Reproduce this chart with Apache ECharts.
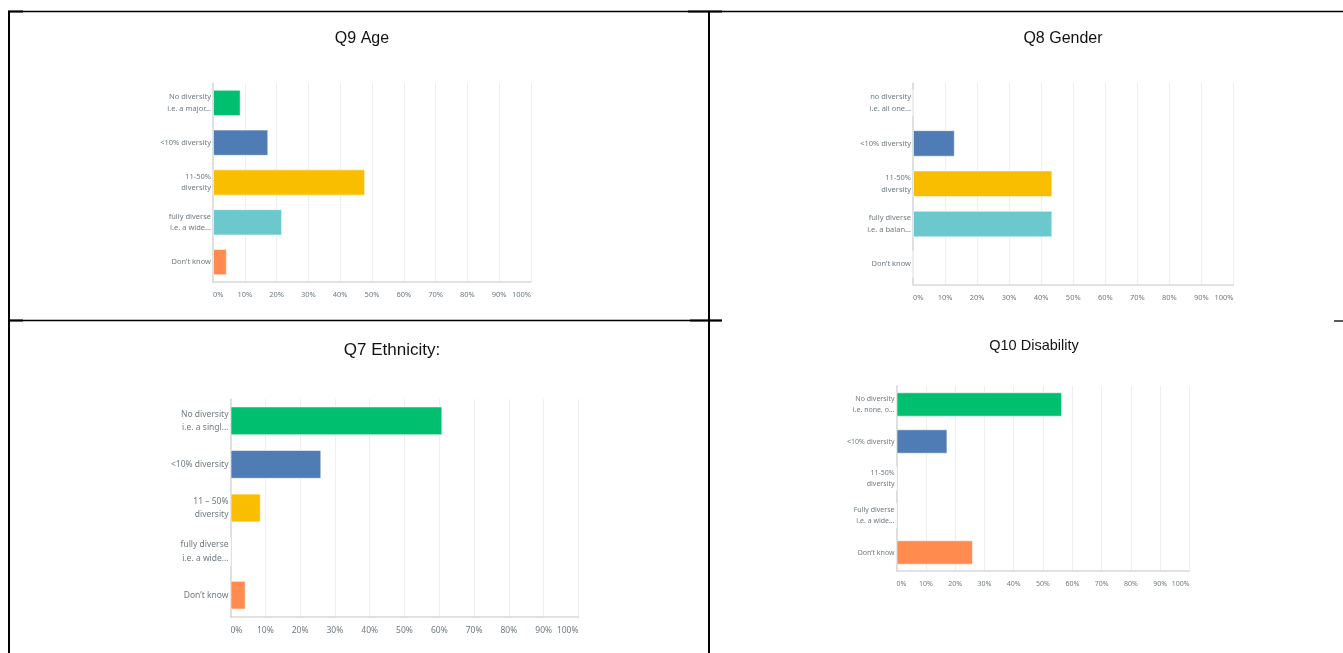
<!DOCTYPE html>
<html>
<head>
<meta charset="utf-8">
<script src="https://cdn.jsdelivr.net/npm/echarts@6/dist/echarts.min.js"></script>
<style>
  html, body { margin: 0; padding: 0; background: #fff; }
  #main { width: 1343px; height: 653px; }
</style>
</head>
<body>
<div id="main"></div>
<script>
// percentages (share of respondents)
let ageCats = ['No diversity\ni.e. a major…', '<10% diversity', '11-50%\ndiversity', 'fully diverse\ni.e. a wide…', 'Don’t know'];
let ageVals = [8.7, 17.39, 47.83, 21.74, 4.35];

let genderCats = ['no diversity\ni.e. all one…', '<10% diversity', '11-50%\ndiversity', 'fully diverse\ni.e. a balan…', 'Don’t know'];
let genderVals = [0, 13.04, 43.48, 43.48, 0];

let ethnicCats = ['No diversity\ni.e. a singl…', '<10% diversity', '11 – 50%\ndiversity', 'fully diverse\ni.e. a wide…', 'Don’t know'];
let ethnicVals = [60.87, 26.09, 8.7, 0, 4.35];

let disabCats = ['No diversity\ni.e. none, o…', '<10% diversity', '11-50%\ndiversity', 'Fully diverse\ni.e. a wide…', 'Don’t know'];
let disabVals = [56.52, 17.39, 0, 0, 26.09];

let xTicks = ['0%', '10%', '20%', '30%', '40%', '50%', '60%', '70%', '80%', '90%', '100%'];
let barColors = ['#00bf6f', '#507cb6', '#f9be00', '#6bc8cd', '#ff8b4f'];

let panels = [
    { title: 'Q9 Age', cats: ageCats, vals: ageVals, tx: 357, ty: 26, tsize: 16, grid: { left: 213, top: 83, width: 318, height: 199 }, fs: 7.5 },
    { title: 'Q8 Gender', cats: genderCats, vals: genderVals, tx: 1058, ty: 26, tsize: 16, grid: { left: 913, top: 83, width: 320.5, height: 201.5 }, fs: 7.5 },
    { title: 'Q7 Ethnicity:', cats: ethnicCats, vals: ethnicVals, tx: 387, ty: 337, tsize: 17, grid: { left: 230.5, top: 399, width: 348, height: 218 }, fs: 8.5 },
    { title: 'Q10 Disability', cats: disabCats, vals: disabVals, tx: 1029, ty: 333, tsize: 14.5, grid: { left: 896.5, top: 386, width: 293, height: 185 }, fs: 7 }
];

let chart = echarts.init(document.getElementById('main'));

let titles = [], grids = [], xAxes = [], yAxes = [], series = [];
panels.forEach(function (p, i) {
    titles.push({
        text: p.title,
        left: p.tx,
        top: p.ty,
        textAlign: 'center',
        textStyle: { fontFamily: 'Liberation Sans', fontWeight: 'normal', fontSize: p.tsize, color: '#111' }
    });
    grids.push(p.grid);
    xAxes.push({
        gridIndex: i,
        type: 'value',
        min: 0,
        max: 100,
        interval: 10,
        axisLine: { show: true, lineStyle: { color: '#d5d8d9', width: 1.5 } },
        axisTick: { show: false },
        splitLine: { show: true, lineStyle: { color: '#eeeff0', width: 1 } },
        axisLabel: {
            margin: 9,
            fontSize: p.fs,
            fontFamily: 'Noto Sans',
            color: '#6f7a80',
            alignMinLabel: 'left',
            alignMaxLabel: 'right',
            formatter: function (v) { return xTicks[Math.round(v / 10)]; }
        }
    });
    yAxes.push({
        gridIndex: i,
        type: 'category',
        inverse: true,
        data: p.cats,
        axisLine: { show: true, lineStyle: { color: '#d5d8d9', width: 1.5 } },
        axisTick: { show: false },
        axisLabel: {
            margin: 2,
            fontSize: p.fs,
            lineHeight: p.fs * 1.55,
            fontFamily: 'Noto Sans',
            color: '#6f7a80',
            align: 'right'
        }
    });
    series.push({
        type: 'bar',
        xAxisIndex: i,
        yAxisIndex: i,
        barCategoryGap: '34%',
        silent: true,
        data: p.vals.map(function (v, k) {
            return { value: v, itemStyle: { color: barColors[k], borderColor: 'rgba(255,255,255,0.55)', borderWidth: 1 } };
        })
    });
});

let black = { stroke: '#000', lineWidth: 2 };
let thin = { stroke: '#000', lineWidth: 1.3 };
let borders = [
    { type: 'line', shape: { x1: 8, y1: 11.5, x2: 1343, y2: 11.5 }, style: thin },
    { type: 'line', shape: { x1: 8, y1: 11.5, x2: 23, y2: 11.5 }, style: black },
    { type: 'line', shape: { x1: 688, y1: 11.5, x2: 722, y2: 11.5 }, style: black },
    { type: 'line', shape: { x1: 9, y1: 11, x2: 9, y2: 653 }, style: black },
    { type: 'line', shape: { x1: 709, y1: 11, x2: 709, y2: 653 }, style: black },
    { type: 'line', shape: { x1: 9, y1: 320.5, x2: 722, y2: 320.5 }, style: thin },
    { type: 'line', shape: { x1: 9, y1: 320.5, x2: 23, y2: 320.5 }, style: black },
    { type: 'line', shape: { x1: 690, y1: 320.5, x2: 722, y2: 320.5 }, style: black },
    { type: 'line', shape: { x1: 1334, y1: 321, x2: 1343, y2: 321 }, style: thin }
];

option = {
    backgroundColor: '#fff',
    animation: false,
    title: titles,
    grid: grids,
    xAxis: xAxes,
    yAxis: yAxes,
    series: series,
    graphic: borders
};
chart.setOption(option);
</script>
</body>
</html>
